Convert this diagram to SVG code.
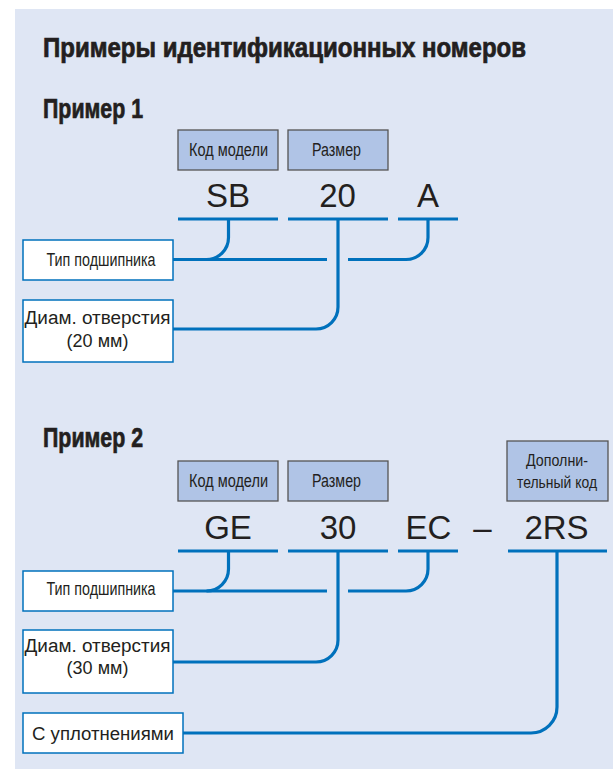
<svg xmlns="http://www.w3.org/2000/svg" width="613" height="769" viewBox="0 0 613 769">
<style>
.bg{fill:#dfe6f4}
.hdr{fill:#b0c4e6;stroke:#555;stroke-width:1.3}
.wbox{fill:#fff;stroke:#0071bc;stroke-width:1.5}
.ln{fill:none;stroke:#0071bc;stroke-width:3.2}
.t{font-family:"Liberation Sans",Arial,sans-serif;fill:#231f20}
.title{font-family:"Liberation Sans Narrow","Liberation Sans",Arial,sans-serif;font-weight:bold;fill:#231f20;stroke:#231f20;stroke-width:0.7}
.cn{font-size:18px;text-anchor:middle}
.sm{font-size:17px;text-anchor:middle}
.big{font-size:33px;text-anchor:middle}
.lab{font-size:18px;text-anchor:middle}
</style>
<rect class="bg" x="15" y="9" width="598" height="760"/>
<text class="title" x="43" y="57" font-size="27" textLength="483" lengthAdjust="spacingAndGlyphs">Примеры идентификационных номеров</text>
<text class="title" x="43" y="118" font-size="27" textLength="100" lengthAdjust="spacingAndGlyphs">Пример 1</text>
<text class="title" x="43" y="447" font-size="27" textLength="100" lengthAdjust="spacingAndGlyphs">Пример 2</text>

<g id="connectors">
<path class="ln" d="M178,219H278M288,219H388M398,219H458"/>
<path class="ln" d="M173,259.5H327"/>
<path class="ln" d="M228.5,219V237.5A22,22 0 0 1 206.5,259.5"/>
<path class="ln" d="M348,259.5H406A22,22 0 0 0 428,237.5V219"/>
<path class="ln" d="M338,219V307A22,22 0 0 1 316,329H173"/>

<path class="ln" d="M178,551H278M288,551H388M398,551H458M508,551H607"/>
<path class="ln" d="M173,591H327"/>
<path class="ln" d="M228.5,551V569A22,22 0 0 1 206.5,591"/>
<path class="ln" d="M348,591H406A22,22 0 0 0 428,569V551"/>
<path class="ln" d="M338,551V640A22,22 0 0 1 316,662H173"/>
<path class="ln" d="M557,551V707A26,26 0 0 1 531,733H183"/>
</g>

<g id="ex1-model">
<rect class="hdr" x="178" y="130" width="100" height="40"/>
<text class="t cn" x="228.5" y="156" textLength="79" lengthAdjust="spacingAndGlyphs">Код модели</text>
</g>
<g id="ex1-size">
<rect class="hdr" x="288" y="130" width="100" height="40"/>
<text class="t cn" x="336.5" y="156" textLength="49" lengthAdjust="spacingAndGlyphs">Размер</text>
</g>
<g id="ex1-code">
<text class="t big" x="228" y="207">SB</text>
<text class="t big" x="337.5" y="207">20</text>
<text class="t big" x="428" y="207">A</text>
</g>
<g id="ex1-type">
<rect class="wbox" x="23" y="240" width="150" height="40"/>
<text class="t cn" x="101" y="266" textLength="109" lengthAdjust="spacingAndGlyphs">Тип подшипника</text>
</g>
<g id="ex1-bore">
<rect class="wbox" x="23" y="300" width="150" height="62"/>
<text class="t lab" x="97.5" y="324" textLength="146" lengthAdjust="spacingAndGlyphs">Диам. отверстия</text>
<text class="t lab" x="97.5" y="347">(20 мм)</text>
</g>

<g id="ex2-model">
<rect class="hdr" x="178" y="461" width="100" height="40"/>
<text class="t cn" x="228.5" y="487" textLength="79" lengthAdjust="spacingAndGlyphs">Код модели</text>
</g>
<g id="ex2-size">
<rect class="hdr" x="288" y="461" width="100" height="40"/>
<text class="t cn" x="336.5" y="487" textLength="49" lengthAdjust="spacingAndGlyphs">Размер</text>
</g>
<g id="ex2-extra">
<rect class="hdr" x="507" y="441" width="101" height="60"/>
<text class="t sm" x="557" y="466" textLength="62" lengthAdjust="spacingAndGlyphs">Дополни-</text>
<text class="t sm" x="557" y="488" textLength="80" lengthAdjust="spacingAndGlyphs">тельный код</text>
</g>
<g id="ex2-code">
<text class="t big" x="228" y="539">GE</text>
<text class="t big" x="338" y="539">30</text>
<text class="t big" x="428.5" y="539">EC</text>
<text class="t big" x="482.5" y="539">–</text>
<text class="t big" x="556.5" y="539">2RS</text>
</g>
<g id="ex2-type">
<rect class="wbox" x="23" y="571" width="150" height="40"/>
<text class="t cn" x="101" y="595" textLength="109" lengthAdjust="spacingAndGlyphs">Тип подшипника</text>
</g>
<g id="ex2-bore">
<rect class="wbox" x="23" y="630" width="150" height="63"/>
<text class="t lab" x="97.5" y="652" textLength="146" lengthAdjust="spacingAndGlyphs">Диам. отверстия</text>
<text class="t lab" x="97.5" y="674">(30 мм)</text>
</g>
<g id="ex2-seal">
<rect class="wbox" x="23" y="713" width="160" height="40"/>
<text class="t lab" x="103" y="740" textLength="142" lengthAdjust="spacingAndGlyphs">С уплотнениями</text>
</g>
</svg>
